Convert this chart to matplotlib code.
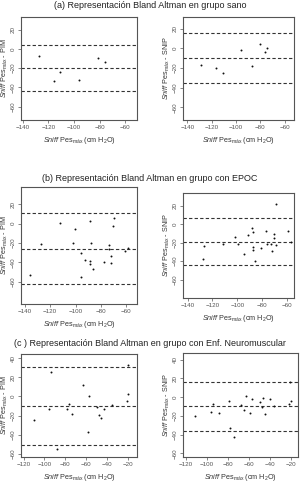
import matplotlib
matplotlib.use("Agg")
import matplotlib.pyplot as plt

plt.rcParams['font.family'] = ['Liberation Sans', 'DejaVu Sans']
plt.rcParams['mathtext.fontset'] = 'custom'
plt.rcParams['mathtext.rm'] = 'Liberation Sans'
plt.rcParams['mathtext.it'] = 'Liberation Sans:italic'

# (a) grupo sano
a_pim_x = [-127.5, -110.6, -115.3, -96, -81.3, -75.6]
a_pim_y = [-7.6, -24.3, -34, -32, -9.4, -13.9]
a_pim_lines = [3.5, -20, -43.5]
a_snip_x = [-128.8, -116.2, -111, -96.2, -86.6, -80.5, -76.2, -74.5]
a_snip_y = [-17.2, -20.3, -25.5, -2, -18.3, 4.1, -3.8, 0]
a_snip_lines = [15.5, -10, -35.2]

# (b) grupo con EPOC
b_pim_x = [-135.8, -127.1, -112.1, -102.4, -100.3, -95.8, -95.5, -92.6, -88.7, -88.2,
           -88.7, -88.7, -86.6, -77.6, -73.7, -73.4, -72.1, -72.1, -70.3, -69.5, -61.1, -58.7]
b_pim_y = [-53, -21.5, 1, -20.1, -5.2, -30.2, -55, -37.3, 3.1, -20.1,
           -39, -41.8, -47.3, -39.4, -21.8, -26.7, -33.6, -40.6, -3, 5.9, -28.8, -25]
b_pim_lines = [10.4, -26, -62.3]
b_snip_x = [-127.9, -127, -111.8, -102.1, -99.4, -94.6, -91.6, -87.9, -87.4, -87.4, -87.4,
            -85.5, -80.7, -77.2, -76.4, -72.6, -72.3, -70.5, -70.2, -68.6, -68.6, -59.5, -57]
b_snip_y = [-37.8, -23.6, -21, -14.2, -21.8, -32.7, -11.6, -4, -8.4, -24.7, -28.4,
            -39.3, -25.5, -6.9, -21.8, -21.8, -29, -10.5, -15.3, -22.2, 22.2, -7.3, -19.3]
b_snip_lines = [7.3, -19, -44.7]

# (c) grupo con Enf. Neuromuscular
c_pim_x = [-110.1, -95.2, -93.6, -87.5, -77.9, -76.9, -73.1, -62.5, -58.3, -56.7,
           -49.3, -47.1, -45.5, -42.9, -35.2, -20.6, -19.4, -20]
c_pim_y = [-24.2, -13, 25.6, -54.7, -13, -7.7, -18.6, 11.6, -36.8, 0.7,
           -11.2, -19.3, -22.5, -13, -9.1, -4.6, 2.5, 32.6]
c_pim_lines = [31.2, -9.5, -50.5]
c_snip_x = [-110.7, -96, -93.7, -88.3, -78.7, -77.7, -73.9, -67.2, -64.3, -62.7, -59.2,
            -57.2, -49.6, -47.4, -46.4, -44.1, -39.4, -35.5, -21.7, -20.4, -20]
c_snip_y = [-20.6, -16.3, -7.8, -17, -4.3, -32.6, -42.6, -8.5, -14.2, 1.4, -16.7,
            -2.5, -5, -10.6, -0.7, -17.7, -1.8, -9.9, -7.1, 16, -4.6]
c_snip_lines = [16.3, -9.9, -36.2]

titles = ['(a) Representación Bland Altman en grupo sano',
          '(b) Representación Bland Altman en grupo con EPOC',
          '(c ) Representación Bland Altman en grupo con Enf. Neuromuscular']

xlab = r'$\it{Sniff}$ Pes$_{\rm máx}$ (cm H$_2$O)'
ylab_pim = r'$\it{Sniff}$ Pes$_{\rm máx}$ - PIM'
ylab_snip = r'$\it{Sniff}$ Pes$_{\rm máx}$ - SNIP'

W, H = 300, 484
fig = plt.figure(figsize=(W / 100, H / 100), dpi=100)

def box(x0, y0, x1, y1):
    return [x0 / W, 1 - y1 / H, (x1 - x0) / W, (y1 - y0) / H]

panels = [
    (box(21, 17, 137, 120), a_pim_x, a_pim_y, a_pim_lines, ylab_pim, (-141.3, -51), (-74, 33), range(-140, -59, 20), range(-60, 21, 20)),
    (box(183, 17, 294, 120), a_snip_x, a_snip_y, a_snip_lines, ylab_snip, (-143.6, -52.3), (-73, 32), range(-140, -59, 20), range(-60, 21, 20)),
    (box(21, 187, 137, 304), b_pim_x, b_pim_y, b_pim_lines, ylab_pim, (-143, -51.6), (-83, 37.7), range(-140, -59, 20), range(-60, 21, 20)),
    (box(183, 193, 294, 298), b_snip_x, b_snip_y, b_snip_lines, ylab_snip, (-143.7, -54.4), (-80, 34), range(-140, -59, 20), range(-60, 21, 20)),
    (box(21, 354, 137, 457), c_pim_x, c_pim_y, c_pim_lines, ylab_pim, (-122.6, -11), (-63.5, 44.6), range(-120, -19, 20), range(-60, 41, 20)),
    (box(183, 353, 298, 457), c_snip_x, c_snip_y, c_snip_lines, ylab_snip, (-122.6, -13), (-64, 47), range(-120, -19, 20), range(-60, 41, 20)),
]

for rect, xs, ys, lines, ylab, xl, yl, xt, yt in panels:
    ax = fig.add_axes(rect)
    ax.scatter(xs, ys, s=2, color='#111111', linewidths=0, zorder=3)
    for v in lines:
        ax.axhline(v, color='#333333', lw=0.8, dashes=(3, 2))
    ax.set_xlim(*xl)
    ax.set_ylim(*yl)
    ax.set_xticks(list(xt))
    ax.set_yticks(list(yt))
    ax.tick_params(labelsize=4.5, length=2, width=0.5, pad=1.5, colors='#555555')
    plt.setp(ax.get_yticklabels(), rotation=90, va='center')
    for s in ax.spines.values():
        s.set_color('#555555')
        s.set_linewidth(0.8)
    ax.set_xlabel(xlab, fontsize=5.2, color='#333333', labelpad=4)
    ax.set_ylabel(ylab, fontsize=5.2, color='#333333', labelpad=1)

for t, y in zip(titles, [6, 179, 344]):
    fig.text(0.5, 1 - y / H, t, ha='center', va='center', fontsize=6.5, color='#222222')

fig.savefig('out.png', dpi=100)
